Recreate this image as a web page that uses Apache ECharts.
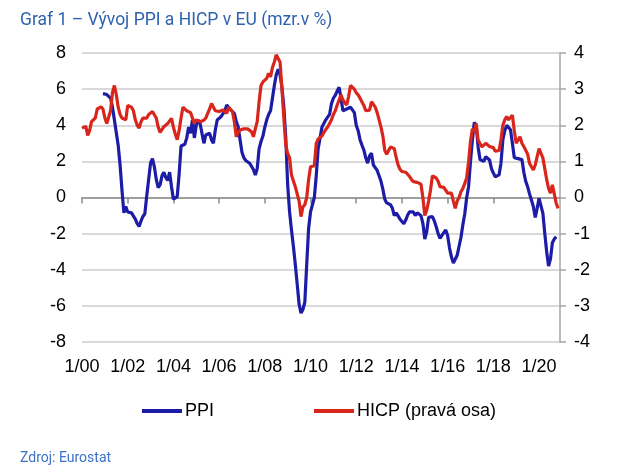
<!DOCTYPE html>
<html><head><meta charset="utf-8">
<script src="https://cdn.jsdelivr.net/npm/echarts@6/dist/echarts.min.js"></script>
<style>html,body{margin:0;padding:0;background:#fff}#c{width:625px;height:471px}</style>
</head><body><div id="c"></div>
<script>
// Tick labels on the time axis (every 24 months, January)
const tickLabels = ["1/00","1/02","1/04","1/06","1/08","1/10","1/12","1/14","1/16","1/18","1/20"];
const firstYear = 2000, lastYear = 2020;

// PPI, y/y % (left axis), monthly Jan 2000 .. Dec 2020 (one row per year)
const ppi = [
  null,null,null,null,null,null,null,null,null,null,null,5.75,
  5.75,5.7,5.65,5.5,5.0,4.3,3.6,2.9,1.8,0.4,-0.85,-0.5,
  -0.8,-0.75,-0.85,-0.95,-1.2,-1.45,-1.6,-1.3,-1.05,-0.9,0.1,1.0,
  1.9,2.15,1.7,1.0,0.55,0.7,1.2,1.4,1.1,0.95,1.4,0.6,
  -0.1,-0.2,0.05,1.3,2.85,2.9,2.95,3.3,3.9,3.56,4.29,3.3,
  4.0,4.29,4.1,4.2,3.0,3.46,3.5,3.56,3.19,3.0,3.74,4.29,
  4.4,4.48,4.48,4.8,5.12,5.03,4.85,4.94,4.66,4.2,3.92,3.2,
  2.5,2.2,2.05,2.0,1.9,1.8,1.55,1.25,1.6,2.7,3.1,3.4,
  3.9,4.3,4.6,4.8,5.5,6.2,6.8,7.1,6.8,6.1,5.0,3.3,
  0.7,-0.8,-1.8,-2.7,-3.7,-4.8,-5.9,-6.4,-6.2,-5.8,-3.7,-1.7,
  -0.8,-0.4,0.0,1.2,2.7,3.3,3.9,4.1,4.3,4.2,4.6,5.2,
  5.5,5.65,5.9,6.1,5.5,4.8,4.85,4.9,5.0,5.0,5.0,4.7,
  4.0,3.7,3.2,2.9,2.63,2.2,1.9,2.3,2.45,1.8,1.75,1.5,
  1.2,0.9,0.45,-0.1,-0.3,-0.32,-0.4,-0.6,-1.0,-0.85,-0.8,-1.2,
  -1.1,-1.45,-1.25,-0.97,-0.8,-0.69,-0.8,-1.0,-0.85,-0.8,-1.0,-1.43,
  -2.3,-1.9,-1.1,-1.06,-1.06,-1.3,-1.62,-2.0,-2.26,-2.1,-2.0,-1.8,
  -2.1,-2.8,-3.3,-3.63,-3.72,-3.2,-2.7,-2.2,-1.5,-0.9,0.0,0.6,
  2.0,3.2,4.15,4.0,2.8,2.1,2.1,2.0,2.26,2.2,2.08,1.6,
  1.35,1.15,1.2,1.25,1.9,3.2,3.7,4.0,4.0,3.75,3.0,2.2,
  2.1,2.15,2.26,2.1,1.4,0.9,0.6,0.2,-0.14,-0.5,-1.1,-0.6,
  -0.05,-0.1,-0.87,-1.97,-3.0,-3.8,-3.4,-2.5,-2.3,-2.17,null,null
];

// HICP, y/y % (right axis), monthly Jan 2000 .. Dec 2020 (one row per year)
const hicp = [
  1.92,1.95,1.97,1.72,1.85,2.10,2.14,2.20,2.45,2.47,2.51,2.45,
  2.20,2.05,2.05,2.4,2.9,3.1,2.85,2.5,2.3,2.2,2.15,2.15,
  2.55,2.6,2.5,2.4,2.15,2.0,1.92,2.1,2.2,2.15,2.2,2.3,
  2.35,2.38,2.42,2.2,1.95,1.8,1.85,1.96,2.0,2.05,2.1,2.19,
  1.95,1.75,1.6,1.85,2.2,2.5,2.45,2.4,2.35,2.35,2.3,2.05,
  2.15,2.2,2.1,2.05,2.14,2.2,2.33,2.45,2.6,2.55,2.4,2.35,
  2.38,2.4,2.42,2.4,2.33,2.5,2.45,2.38,2.1,1.68,1.8,1.87,
  1.92,1.9,1.87,1.9,1.92,1.82,1.68,1.9,2.1,2.65,3.1,3.2,
  3.2,3.3,3.44,3.34,3.6,3.75,3.95,3.85,3.75,3.0,2.2,1.45,
  1.22,1.1,0.62,0.6,0.3,0.1,-0.1,-0.53,-0.26,-0.2,0.0,0.5,
  0.85,0.88,0.88,1.5,1.62,1.6,1.7,1.8,1.88,1.95,2.05,2.15,
  2.3,2.4,2.56,2.7,2.84,2.7,2.62,2.56,2.8,3.1,3.1,3.0,
  2.9,2.84,2.75,2.7,2.55,2.4,2.38,2.42,2.65,2.65,2.5,2.35,
  2.15,1.95,1.7,1.3,1.2,1.3,1.4,1.45,1.35,1.1,0.9,0.78,
  0.72,0.67,0.7,0.65,0.58,0.5,0.44,0.44,0.42,0.39,0.37,0.0,
  -0.5,-0.35,-0.1,0.2,0.6,0.58,0.54,0.45,0.3,0.3,0.28,0.25,
  0.12,0.1,0.12,-0.1,-0.3,-0.1,0.0,0.16,0.25,0.39,0.55,1.0,
  1.55,1.9,1.82,2.05,1.59,1.59,1.4,1.35,1.5,1.52,1.41,1.38,
  1.38,1.28,1.23,1.3,1.6,2.0,2.15,2.24,2.15,2.2,2.28,1.85,
  1.5,1.55,1.68,1.5,1.41,1.41,1.2,0.95,0.85,0.76,0.9,1.13,
  1.35,1.4,1.1,0.8,0.5,0.25,0.12,0.35,0.1,-0.16,-0.3,null
];

const seriesNames = ["PPI", "HICP (pravá osa)"];

// month categories "m/yy"
const categories = [];
for (let y = firstYear; y <= lastYear; y++) {
  for (let m = 1; m <= 12; m++) categories.push(m + "/" + String(y).slice(2));
}

const chart = echarts.init(document.getElementById('c'), null, {renderer: 'canvas'});
const axisFont = {fontFamily: 'Liberation Sans', fontSize: 18, color: '#000'};
const showTick = (i) => tickLabels.indexOf(categories[i]) !== -1;

chart.setOption({
  animation: false,
  backgroundColor: '#fff',
  title: [
    {text: 'Graf 1 – Vývoj PPI a HICP v EU (mzr.v %)', left: 15, top: 7,
     textStyle: {fontFamily: 'Roboto', fontSize: 17.5, fontWeight: 'normal', color: '#2f62b0'}},
    {text: 'Zdroj: Eurostat', left: 15, top: 446,
     textStyle: {fontFamily: 'Roboto', fontSize: 14, fontWeight: 'normal', color: '#3d72c4'}}
  ],
  grid: {left: 82, right: 65, top: 53, bottom: 129},
  legend: {
    data: seriesNames, left: 137, top: 397, itemWidth: 40, itemHeight: 4, itemGap: 100,
    icon: 'rect', textStyle: {fontFamily: 'Liberation Sans', fontSize: 18, color: '#000', padding: [0,0,0,-2]}
  },
  xAxis: [
    {type: 'category', data: categories, boundaryGap: false,
     axisLine: {onZero: true, onZeroAxisIndex: 0, lineStyle: {color: '#8c8c8c', width: 1.5}},
     axisTick: {interval: showTick, length: 6, lineStyle: {color: '#8c8c8c', width: 1.5}},
     axisLabel: {show: false}, splitLine: {show: false}},
    {type: 'category', data: categories, boundaryGap: false, position: 'bottom',
     axisLine: {show: false, onZero: false}, axisTick: {show: false},
     axisLabel: Object.assign({interval: showTick, margin: 16}, axisFont), splitLine: {show: false}}
  ],
  yAxis: [
    {type: 'value', min: -8, max: 8, interval: 2, position: 'left',
     axisLine: {show: false}, axisTick: {show: false},
     axisLabel: Object.assign({margin: 16}, axisFont),
     splitLine: {lineStyle: {color: '#d9d9d9', width: 2}}},
    {type: 'value', min: -4, max: 4, interval: 1, position: 'right',
     axisLine: {show: true, lineStyle: {color: '#a6a6a6', width: 1.5}},
     axisTick: {show: true, length: 6, lineStyle: {color: '#a6a6a6', width: 1.5}},
     axisLabel: Object.assign({margin: 14}, axisFont), splitLine: {show: false}}
  ],
  series: [
    {name: seriesNames[0], type: 'line', data: ppi, xAxisIndex: 0, yAxisIndex: 0,
     symbol: 'none', lineStyle: {color: '#1c1ca6', width: 3.2}, itemStyle: {color: '#1c1ca6'}},
    {name: seriesNames[1], type: 'line', data: hicp, xAxisIndex: 0, yAxisIndex: 1,
     symbol: 'none', lineStyle: {color: '#d9261c', width: 3.2}, itemStyle: {color: '#d9261c'}}
  ]
});
</script></body></html>
